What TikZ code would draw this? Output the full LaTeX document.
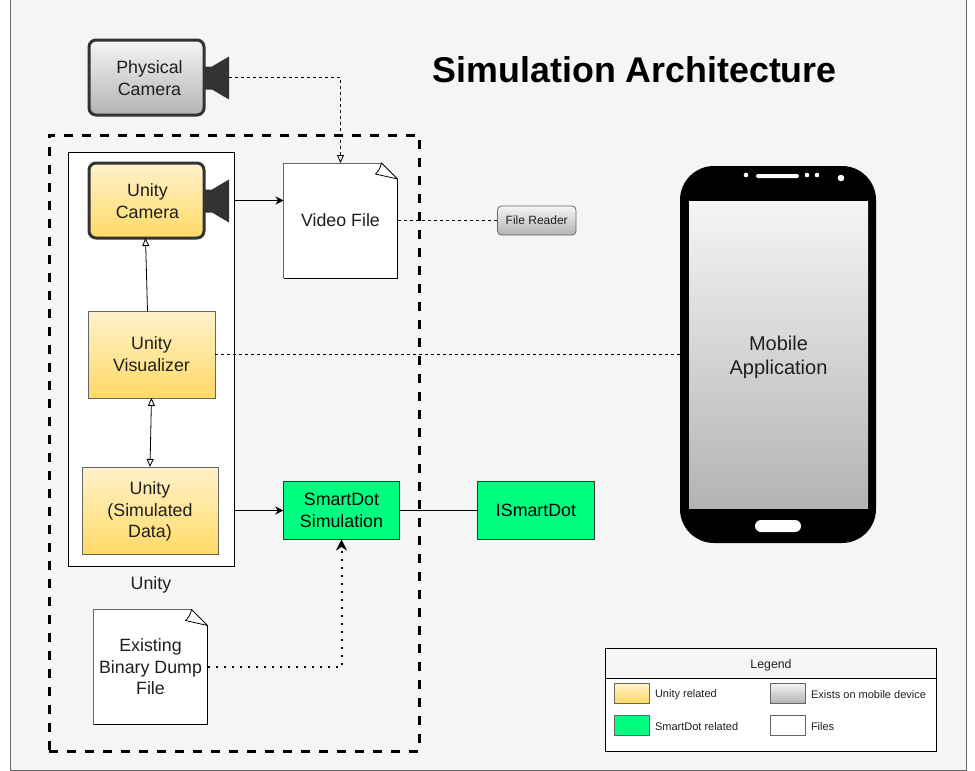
\documentclass[tikz,border=0pt]{standalone}
\usepackage{fontspec}
\setmainfont{Liberation Sans}
\usetikzlibrary{positioning,calc,arrows.meta}

\definecolor{pagebg}{HTML}{F5F5F5}
\definecolor{edgegray}{HTML}{666666}
\definecolor{camdark}{HTML}{333333}
\definecolor{labelink}{HTML}{1F1F1F}
\definecolor{unitytop}{HTML}{FFF2CC}
\definecolor{unitybot}{HTML}{FFD966}
\definecolor{graytop}{HTML}{F5F5F5}
\definecolor{graybot}{HTML}{B3B3B3}
\definecolor{dotgreen}{HTML}{00FF80}

\tikzset{
    opentip/.tip={Triangle[open,fill=pagebg,length=8pt,width=7pt]},
    solidtip/.tip={Stealth[length=8pt,width=8pt]},
    every node/.style={inner sep=0pt,outer sep=0pt,align=center,text=labelink},
    lbl/.style={font=\fontsize{17.8}{22}\selectfont},
    lbltight/.style={font=\fontsize{17.8}{21.5}\selectfont},
    unityblock/.style={lbl,draw=edgegray,line width=1pt,top color=unitytop,bottom color=unitybot},
    dotblock/.style={lbl,draw=camdark,line width=1pt,fill=dotgreen,text=black,minimum width=116.5pt,minimum height=58pt},
    camblock/.style={draw=camdark,line width=3pt,rounded corners=7pt,minimum width=115pt,minimum height=75pt},
    docblock/.style={lbl,fill=white,minimum width=114pt,minimum height=115pt},
    swatch/.style={draw=edgegray,line width=1pt,minimum width=35pt,minimum height=20pt},
    legendlbl/.style={font=\fontsize{11}{13}\selectfont,anchor=west,yshift=-1.5pt},
    thinline/.style={line width=0.8pt,black},
    dashline/.style={thinline,dash pattern=on 3pt off 3pt},
}

\begin{document}
\begin{tikzpicture}[x=1pt,y=-1pt]
    \useasboundingbox (0,0) rectangle (975,771);
    \draw[edgegray,fill=pagebg,line width=0.8pt] (10.5,-1) rectangle (966,770);

    \node[font=\bfseries\fontsize{35.8}{40}\selectfont,text=black] (title) at (634.8,70) {Simulation Architecture};

    % outer boxes
    \node[draw=black,line width=3pt,dash pattern=on 9pt off 9pt,minimum width=370pt,minimum height=616pt] (simbox) at (234,443) {};
    \node[draw=black,fill=white,line width=0.8pt,minimum width=166pt,minimum height=414pt] (unitybox) at (151,359) {};
    \node[lbl,below=11pt of unitybox] (unitylbl) {Unity};

    % cameras
    \node[camblock,top color=graytop,bottom color=graybot] (physcam) at (146.5,77.5) {};
    \node[lbl] (physcamlbl) at ([xshift=3pt,yshift=-1pt]physcam.center) {Physical\\Camera};
    \node[camblock,top color=unitytop,bottom color=unitybot] (unitycam) at (146.5,200.5) {};
    \node[lbl] (unitycamlbl) at ([xshift=1pt,yshift=-1pt]unitycam.center) {Unity\\Camera};
    \foreach \cam in {physcam,unitycam} {
        \fill[camdark] ($(\cam.east)+(0,-11)$) -- ++(8,0) -- ++(17,-10) -- ++(0,43) -- ++(-17,-10) -- ++(-8,0) -- cycle;
        \coordinate (\cam lens) at ($(\cam.east)+(25,0)$);
    }

    % unity blocks
    \node[unityblock,minimum width=127pt,minimum height=87pt] (unityvis) at (151.5,354.5) {Unity\\Visualizer};
    \node[unityblock,minimum width=136pt,minimum height=87pt] (unitydata) at (150,510.5) {};
    \node[lbltight] (unitydatalbl) at ([yshift=-1pt]unitydata.center) {Unity\\(Simulated\\Data)};

    % files
    \node[docblock] (videofile) at (340.5,220.5) {Video File};
    \node[docblock,lbltight] (dumpfile) at (150.5,667) {Existing\\Binary Dump\\File};
    \foreach \doc in {videofile,dumpfile} {
        \fill[pagebg] ([xshift=-16pt]\doc.north east) -- (\doc.north east) -- ([yshift=-16pt]\doc.north east) -- cycle;
        \draw[edgegray,line width=1pt] ([xshift=-16pt]\doc.north east) -- (\doc.north west) -- (\doc.south west);
        \draw[black,line width=0.8pt] (\doc.south west) -- (\doc.south east) -- ([yshift=-16pt]\doc.north east);
        \draw[black,line width=0.8pt,fill=white,line join=round] ([xshift=-16pt]\doc.north east) .. controls ([xshift=-17pt,yshift=-5pt]\doc.north east) and ([xshift=-19pt,yshift=-8pt]\doc.north east) .. ([xshift=-22pt,yshift=-11pt]\doc.north east) -- ([yshift=-16pt]\doc.north east) -- cycle;
    }

    % green blocks and reader
    \node[dotblock] (smartdot) at (341.5,510.5) {SmartDot\\Simulation};
    \node[dotblock,right=78pt of smartdot] (ismartdot) {ISmartDot};
    \node[draw=edgegray,line width=0.8pt,rounded corners=4pt,top color=graytop,bottom color=graybot,font=\fontsize{12}{14}\selectfont,minimum width=78.5pt,minimum height=29pt,right=100pt of videofile] (filereader) {File Reader};

    % phone
    \node[fill=black,rounded corners=34pt,minimum width=196pt,minimum height=377pt] (phone) at (778,354.5) {};
    \node[top color=graytop,bottom color=graybot,minimum width=179pt,minimum height=307pt] (screen) at (778.5,354.5) {};
    \node[font=\fontsize{20}{24}\selectfont] (screenlbl) at ([yshift=-3pt]screen.center) {Mobile\\Application};
    \node[fill=white,rounded corners=2pt,minimum width=43pt,minimum height=4pt] (speaker) at (777.5,176) {};
    \node[fill=white,rounded corners=6pt,minimum width=46pt,minimum height=12pt] (homekey) at (778,526) {};
    \foreach \px/\py/\pr in {746/175/2.3,807/175/2.3,817/175/2.3,841/178/3.3} {
        \fill[white] (\px,\py) circle (\pr);
    }

    % connectors
    \draw[dashline,-opentip] (physcamlens) -| (videofile.north);
    \draw[thinline,-solidtip] (unitybox.east |- unitycam) -- (videofile.west |- unitycam);
    \draw[dashline] (videofile.east) -- (filereader.west);
    \draw[thinline,-opentip] ([xshift=-4pt]unityvis.north) -- ([xshift=-1pt]unitycam.south);
    \draw[thinline,opentip-opentip] (unitydata.north) -- (unityvis.south);
    \draw[dashline] (unityvis.east) -- (phone.west);
    \draw[thinline,-solidtip] (unitybox.east |- smartdot) -- (smartdot.west);
    \draw[thinline] (smartdot.east) -- (ismartdot.west);
    \draw[black,line width=2pt,dash pattern=on 2pt off 6pt,-{Stealth[length=11pt,width=11pt]}] (dumpfile.east) -| (smartdot.south);

    % legend
    \node[draw=black,fill=white,line width=0.8pt,minimum width=331.5pt,minimum height=103pt] (legend) at (771,699.5) {};
    \node[draw=black,fill=pagebg,line width=0.8pt,minimum width=331.5pt,minimum height=30pt,anchor=north] (legendhead) at (legend.north) {};
    \node[font=\fontsize{12.3}{14}\selectfont] (legendlbl) at ([yshift=-2pt]legendhead.center) {Legend};
    \node[swatch,top color=unitytop,bottom color=unitybot] (keyunity) at (631.5,693) {};
    \node[swatch,fill=dotgreen] (keydot) at (631.5,725) {};
    \node[swatch,top color=graytop,bottom color=graybot] (keymobile) at (787.5,693) {};
    \node[swatch,fill=white] (keyfile) at (787.5,725) {};
    \node[legendlbl,right=6pt of keyunity] (txtunity) {Unity related};
    \node[legendlbl,right=6pt of keydot] (txtdot) {SmartDot related};
    \node[legendlbl,right=6pt of keymobile] (txtmobile) {Exists on mobile device};
    \node[legendlbl,right=6pt of keyfile] (txtfile) {Files};
\end{tikzpicture}
\end{document}
